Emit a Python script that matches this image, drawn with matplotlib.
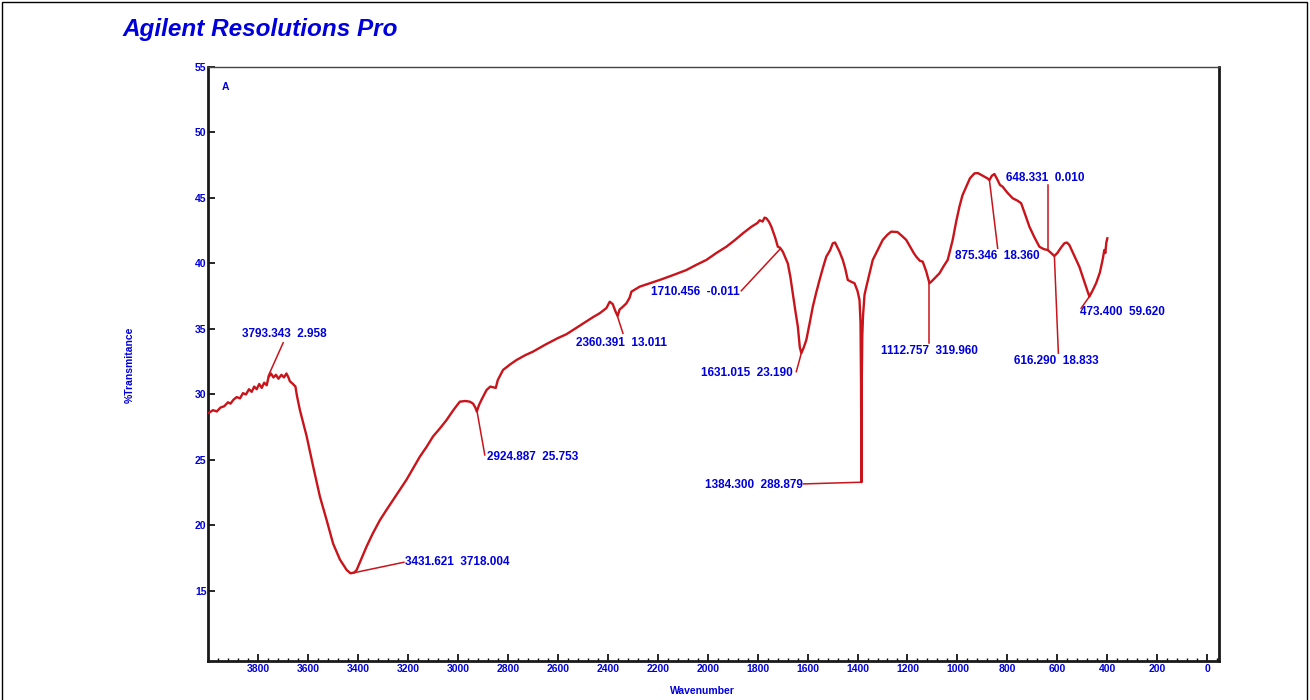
import matplotlib
matplotlib.use("Agg")
import matplotlib.pyplot as plt
from matplotlib.patches import Rectangle
from matplotlib.ticker import MultipleLocator

# spectrum (wavenumber, %T)
wavenumber = [
    3996, 3980, 3965, 3950, 3935, 3920, 3910, 3898, 3885, 3872, 3860, 3848,
    3836, 3825, 3815, 3805, 3795, 3785, 3775, 3765, 3758, 3748, 3738, 3728,
    3718, 3706, 3696, 3686, 3678, 3672, 3660, 3650, 3644, 3632, 3605, 3579,
    3552, 3525, 3499, 3472, 3445, 3430, 3415, 3405, 3385, 3365, 3340, 3312,
    3285, 3259, 3230, 3205, 3178, 3152, 3125, 3099, 3072, 3045, 3018, 2992,
    2970, 2952, 2939, 2930, 2924, 2915, 2905, 2885, 2870, 2859, 2848, 2840,
    2819, 2790, 2765, 2730, 2699, 2650, 2600, 2565, 2500, 2459, 2432, 2405,
    2392, 2380, 2368, 2360, 2352, 2345, 2325, 2312, 2305, 2272, 2230, 2192,
    2140, 2085, 2045, 2005, 1965, 1925, 1890, 1859, 1825, 1800, 1792, 1780,
    1772, 1765, 1755, 1745, 1730, 1719, 1710, 1699, 1690, 1679, 1669, 1659,
    1649, 1639, 1631, 1625, 1615, 1605, 1592, 1579, 1565, 1552, 1538, 1525,
    1510, 1499, 1490, 1485, 1472, 1459, 1449, 1439, 1425, 1412, 1400, 1392,
    1388, 1386, 1384.3, 1383, 1381, 1378, 1372, 1365, 1350, 1339, 1325, 1312,
    1299, 1280, 1265, 1240, 1219, 1205, 1190, 1175, 1165, 1150, 1139, 1125,
    1112, 1100, 1085, 1072, 1055, 1039, 1019, 1005, 992, 980, 965, 950,
    932, 918, 905, 890, 880, 872, 862, 852, 840, 830, 819, 800,
    779, 760, 745, 730, 712, 692, 672, 655, 639, 625, 612, 600,
    592, 582, 572, 562, 552, 535, 512, 492, 480, 472, 460, 445,
    430, 419, 412, 408, 404, 400,
]
transmittance = [
    28.6, 28.8, 28.7, 29.0, 29.1, 29.4, 29.3, 29.6, 29.8, 29.7, 30.1, 30.0,
    30.4, 30.2, 30.6, 30.4, 30.8, 30.5, 30.9, 30.7, 31.3, 31.6, 31.3, 31.5,
    31.2, 31.5, 31.3, 31.6, 31.3, 31.0, 30.8, 30.6, 29.9, 28.8, 26.8, 24.5,
    22.2, 20.4, 18.6, 17.4, 16.6, 16.35, 16.4, 16.6, 17.5, 18.4, 19.4, 20.4,
    21.2, 21.95, 22.8, 23.5, 24.4, 25.25, 26.0, 26.8, 27.4, 28.05, 28.8, 29.45,
    29.5, 29.45, 29.3, 29.0, 28.7, 29.2, 29.6, 30.34, 30.6, 30.55, 30.5, 31.1,
    31.87, 32.3, 32.63, 33.0, 33.27, 33.8, 34.3, 34.6, 35.4, 35.9, 36.2, 36.6,
    37.08, 36.9, 36.3, 36.0, 36.5, 36.6, 36.96, 37.4, 37.85, 38.23, 38.5, 38.74,
    39.1, 39.5, 39.9, 40.27, 40.8, 41.28, 41.8, 42.3, 42.8, 43.1, 43.3, 43.2,
    43.5, 43.45, 43.2, 42.81, 42.0, 41.28, 41.2, 40.9, 40.5, 40.0, 39.0, 37.7,
    36.4, 35.2, 33.6, 33.15, 33.6, 34.16, 35.4, 36.7, 37.8, 38.74, 39.7, 40.52,
    41.0, 41.54, 41.6, 41.41, 40.9, 40.27, 39.6, 38.74, 38.6, 38.49, 37.9, 37.2,
    35.5, 31.0, 23.3, 31.0, 34.4, 36.0, 37.6, 38.2, 39.4, 40.27, 40.8, 41.28,
    41.8, 42.2, 42.43, 42.4, 42.05, 41.8, 41.3, 40.8, 40.52, 40.2, 40.14, 39.4,
    38.49, 38.7, 39.0, 39.25, 39.8, 40.27, 41.8, 43.2, 44.34, 45.2, 45.86, 46.5,
    46.88, 46.9, 46.76, 46.6, 46.5, 46.37, 46.7, 46.83, 46.4, 46.0, 45.86, 45.4,
    44.98, 44.8, 44.6, 43.8, 42.81, 42.0, 41.28, 41.1, 41.03, 40.8, 40.57, 40.8,
    41.03, 41.3, 41.54, 41.6, 41.41, 40.7, 39.75, 38.6, 37.9, 37.47, 37.9, 38.49,
    39.3, 40.27, 41.03, 40.8, 41.6, 41.92,
]

# peak labels: text, peak point, end of leader line, text position, alignment
peak_labels = [
    "3793.343  2.958", "3431.621  3718.004", "2924.887  25.753",
    "2360.391  13.011", "1710.456  -0.011", "1631.015  23.190",
    "1384.300  288.879", "1112.757  319.960", "875.346  18.360",
    "648.331  0.010", "616.290  18.833", "473.400  59.620",
]
peak_xy = [
    (3759, 31.4), (3425, 16.35), (2923, 28.7), (2365, 36.2),
    (1710, 41.1), (1625, 33.15), (1384.3, 23.3), (1112, 38.49),
    (872, 46.37), (639, 41.03), (612, 40.57), (472, 37.47),
]
leader_end = [
    (3699, 33.95), (3216, 17.19), (2892, 25.38), (2339, 34.67),
    (1865, 37.92), (1645, 31.74), (1616, 23.17), (1112, 33.9),
    (839, 41.16), (639, 46.0), (596, 33.15), (505, 36.58),
]
text_xy = [
    (3865, 34.6), (3212, 17.24), (2885, 25.25), (2344, 33.95),
    (1872, 37.85), (1660, 31.66), (1620, 23.1), (1112, 33.32),
    (842, 40.57), (648, 46.55), (606, 32.56), (509, 36.32),
]
text_ha = ["left", "left", "left", "center", "right", "right",
           "right", "center", "center", "center", "center", "left"]

blue = "#0000dd"
red = "#c8141a"
plt.rcParams["font.family"] = ["Liberation Sans", "DejaVu Sans"]

fig = plt.figure(figsize=(13.1, 7), dpi=100)
ax = fig.add_axes([208 / 1310, 1 - 661 / 700, 1011 / 1310, 594 / 700])

ax.plot(wavenumber, transmittance, color=red, lw=1.7, zorder=3)

for lab, (px, py), (ex, ey), (tx, ty), ha in zip(peak_labels, peak_xy, leader_end, text_xy, text_ha):
    ax.plot([px, ex], [py, ey], color=red, lw=1.1, zorder=2)
    ax.text(tx, ty, lab, ha=ha, va="center", fontsize=8.5, fontweight="bold", color=blue)

ax.text(0.017, 0.966, "A", transform=ax.transAxes, fontsize=7.5,
        fontweight="bold", color=blue, ha="center", va="center")

ax.set_xlim(4000, -47)
ax.set_ylim(9.65, 55)
ax.xaxis.set_major_locator(MultipleLocator(200))
ax.xaxis.set_minor_locator(MultipleLocator(40))
ax.set_xticks(range(3800, -1, -200))
ax.set_yticks(range(15, 56, 5))

ax.tick_params(axis="x", which="major", direction="in", length=5, width=1.2,
               pad=2, labelsize=7.5, labelcolor=blue, top=False)
ax.tick_params(axis="x", which="minor", direction="in", length=2.5, width=1, top=False)
ax.tick_params(axis="y", which="major", direction="in", length=5, width=1.2,
               pad=1, labelsize=7.5, labelcolor=blue, right=False)
for lbl in ax.get_xticklabels() + ax.get_yticklabels():
    lbl.set_fontweight("bold")

for side in ["left", "bottom", "right"]:
    ax.spines[side].set_linewidth(2)
    ax.spines[side].set_color("#1a1a1a")
ax.spines["top"].set_linewidth(1)
ax.spines["top"].set_color("#444444")

fig.text(702 / 1310, 1 - 691 / 700, "Wavenumber", ha="center", va="center",
         fontsize=7.5, fontweight="bold", color=blue)
fig.text(130 / 1310, 1 - 365 / 700, "%Transmitance", rotation=90, ha="center",
         va="center", fontsize=7.5, fontweight="bold", color=blue)
fig.text(122 / 1310, 1 - 36 / 700, "Agilent Resolutions Pro", ha="left",
         va="baseline", fontsize=17.5, fontweight="bold", fontstyle="italic", color=blue)

fig.patches.append(Rectangle((2 / 1310, -0.05), 1305 / 1310, 1.047, transform=fig.transFigure,
                             fill=False, edgecolor="black", lw=1))

fig.savefig("out.png", dpi=100)
